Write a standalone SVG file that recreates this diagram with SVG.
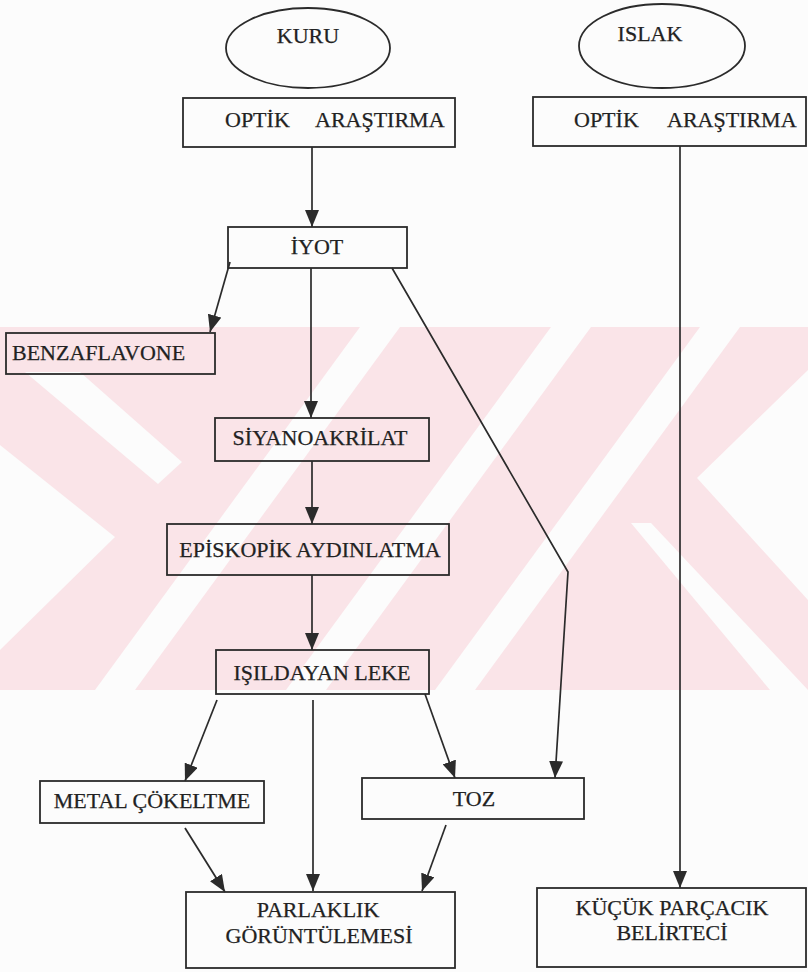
<svg xmlns="http://www.w3.org/2000/svg" width="808" height="972" viewBox="0 0 808 972">
<defs>
<style>
.box{fill:none;stroke:#2b2b2b;stroke-width:1.8}
.lbl{font-family:"Liberation Serif","Times New Roman",serif;font-size:22px;fill:#222;stroke:#222;stroke-width:0.25;text-anchor:middle}
.lbl-l{font-family:"Liberation Serif","Times New Roman",serif;font-size:22px;fill:#222;stroke:#222;stroke-width:0.25}
.con{fill:none;stroke:#2b2b2b;stroke-width:1.7}
.wm{fill:#fae4e8}
.wg{fill:#fcfcfc}
</style>
<marker id="ah" markerWidth="18" markerHeight="14" viewBox="0 0 18 14" refX="17" refY="7" orient="auto" markerUnits="userSpaceOnUse">
<path d="M0,0 L17,7 L0,14 Z" fill="#2b2b2b"/>
</marker>
</defs>
<rect x="0" y="0" width="808" height="972" fill="#fcfcfc"/>
<g id="watermark">
<rect class="wm" x="0" y="327" width="808" height="363"/>
<polygon class="wg" points="25,372 80,372 182,462 158,484"/>
<polygon class="wg" points="0,445 115,537 0,650"/>
<polygon class="wg" points="360,327 400,327 135,690 95,690"/>
<polygon class="wg" points="551,327 591,327 326,690 286,690"/>
<polygon class="wg" points="700,327 740,327 475,690 435,690"/>
<polygon class="wg" points="631,523 651,523 808,690 770,690"/>
<polygon class="wg" points="808,370 697,478 808,600"/>
</g>
<g id="connectors">
<line class="con" x1="312" y1="147" x2="312" y2="227" marker-end="url(#ah)"/>
<line class="con" x1="311" y1="268" x2="311" y2="418" marker-end="url(#ah)"/>
<line class="con" x1="230" y1="262" x2="210" y2="332" marker-end="url(#ah)"/>
<polyline class="con" points="392,268 568,572 555,778" marker-end="url(#ah)"/>
<line class="con" x1="312" y1="461" x2="312" y2="524" marker-end="url(#ah)"/>
<line class="con" x1="312" y1="575" x2="312" y2="650" marker-end="url(#ah)"/>
<line class="con" x1="217" y1="700" x2="185" y2="781" marker-end="url(#ah)"/>
<line class="con" x1="313" y1="700" x2="313" y2="891" marker-end="url(#ah)"/>
<line class="con" x1="425" y1="694" x2="455" y2="778" marker-end="url(#ah)"/>
<line class="con" x1="185" y1="828" x2="225" y2="892" marker-end="url(#ah)"/>
<line class="con" x1="446" y1="825" x2="422" y2="891" marker-end="url(#ah)"/>
<line class="con" x1="680" y1="146" x2="680" y2="888" marker-end="url(#ah)"/>
</g>
<g id="kuru">
<ellipse class="box" cx="308" cy="48" rx="82" ry="40"/>
<text class="lbl" x="308" y="43">KURU</text>
</g>
<g id="islak">
<ellipse class="box" cx="662" cy="46" rx="83" ry="42"/>
<text class="lbl" x="650" y="41">ISLAK</text>
</g>
<g id="optik1">
<rect class="box" x="183" y="98" width="272" height="49"/>
<text class="lbl-l" y="127"><tspan x="225">OPTİK</tspan><tspan x="315">ARAŞTIRMA</tspan></text>
</g>
<g id="optik2">
<rect class="box" x="533" y="97" width="273" height="49"/>
<text class="lbl-l" y="127"><tspan x="574">OPTİK</tspan><tspan x="667">ARAŞTIRMA</tspan></text>
</g>
<g id="iyot">
<rect class="box" x="228" y="227" width="179" height="41"/>
<text class="lbl" x="317" y="254">İYOT</text>
</g>
<g id="benzaflavone">
<rect class="box" x="6" y="333" width="209" height="41"/>
<text class="lbl-l" x="12" y="360">BENZAFLAVONE</text>
</g>
<g id="siyanoakrilat">
<rect class="box" x="215" y="418" width="214" height="43"/>
<text class="lbl" x="320" y="445">SİYANOAKRİLAT</text>
</g>
<g id="episkopik">
<rect class="box" x="167" y="524" width="282" height="51"/>
<text class="lbl" x="310" y="557">EPİSKOPİK AYDINLATMA</text>
</g>
<g id="isildayan">
<rect class="box" x="216" y="650" width="213" height="44"/>
<text class="lbl" x="322" y="680">IŞILDAYAN LEKE</text>
</g>
<g id="metal">
<rect class="box" x="40" y="781" width="224" height="42"/>
<text class="lbl" x="152" y="808">METAL ÇÖKELTME</text>
</g>
<g id="toz">
<rect class="box" x="362" y="778" width="222" height="41"/>
<text class="lbl" x="474" y="806">TOZ</text>
</g>
<g id="parlaklik">
<rect class="box" x="186" y="892" width="269" height="76"/>
<text class="lbl" x="318" y="917">PARLAKLIK</text>
<text class="lbl" x="319" y="943">GÖRÜNTÜLEMESİ</text>
</g>
<g id="kucuk">
<rect class="box" x="537" y="888" width="269" height="79"/>
<text class="lbl" x="672" y="915">KÜÇÜK PARÇACIK</text>
<text class="lbl" x="672" y="940">BELİRTECİ</text>
</g>
</svg>
